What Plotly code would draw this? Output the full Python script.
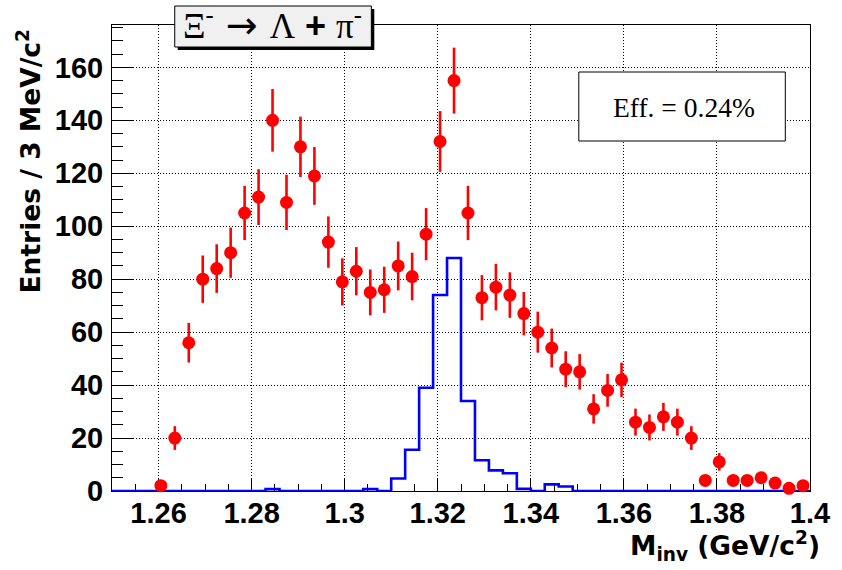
import numpy as np
import plotly.graph_objects as go

# ---- data (3 MeV/c^2 bins) ----
data_mass = [1.2605, 1.2635, 1.2665, 1.2695, 1.2725, 1.2755, 1.2785, 1.2815, 1.2845, 1.2875,
             1.2905, 1.2935, 1.2965, 1.2995, 1.3025, 1.3055, 1.3085, 1.3115, 1.3145, 1.3175,
             1.3205, 1.3235, 1.3265, 1.3295, 1.3325, 1.3355, 1.3385, 1.3415, 1.3445, 1.3475,
             1.3505, 1.3535, 1.3565, 1.3595, 1.3625, 1.3655, 1.3685, 1.3715, 1.3745, 1.3775,
             1.3805, 1.3835, 1.3865, 1.3895, 1.3925, 1.3955, 1.3985]
data_counts = [2, 20, 56, 80, 84, 90, 105, 111, 140, 109,
               130, 119, 94, 79, 83, 75, 76, 85, 81, 97,
               132, 155, 105, 73, 77, 74, 67, 60, 54, 46,
               45, 31, 38, 42, 26, 24, 28, 26, 20, 4,
               11, 4, 4, 5, 3, 1, 2]
data_err = list(np.sqrt(data_counts))

mc_edges = [1.250, 1.253, 1.256, 1.259, 1.262, 1.265, 1.268, 1.271, 1.274, 1.277,
            1.280, 1.283, 1.286, 1.289, 1.292, 1.295, 1.298, 1.301, 1.304, 1.307,
            1.310, 1.313, 1.316, 1.319, 1.322, 1.325, 1.328, 1.331, 1.334, 1.337,
            1.340, 1.343, 1.346, 1.349, 1.352, 1.355, 1.358, 1.361, 1.364, 1.367,
            1.370, 1.373, 1.376, 1.379, 1.382, 1.385, 1.388, 1.391, 1.394, 1.397, 1.400]
mc_counts = [0, 0, 0, 0, 0, 0, 0, 0, 0, 0,
             0, 0.7, 0, 0, 0, 0, 0, 0, 0.7, 0,
             4.7, 15.6, 39, 74, 88, 34, 11.6, 7.8, 6.7, 0.8,
             0, 2.5, 1.7, 0, 0, 0, 0, 0, 0, 0,
             0, 0, 0, 0, 0, 0, 0, 0, 0, 0]

x_tickvals = [1.26, 1.28, 1.30, 1.32, 1.34, 1.36, 1.38, 1.40]
x_ticktext = ["1.26", "1.28", "1.3", "1.32", "1.34", "1.36", "1.38", "1.4"]
y_tickvals = [0, 20, 40, 60, 80, 100, 120, 140, 160]
y_ticktext = ["0", "20", "40", "60", "80", "100", "120", "140", "160"]

NB = "\u00a0"
title_text = ("Ξ<sup>-</sup>"
              "<span style=\"font-family:'DejaVu Sans';font-size:38px\">" + NB + "→" + NB + "</span>"
              "Λ"
              "<span style=\"font-family:'Liberation Sans';font-weight:bold;font-size:36px\">" + NB + "+" + NB + "</span>"
              "π<sup>-</sup>")
eff_text = "Eff. = 0.24%"
xtitle_text = "<b>M<sub>inv</sub> (GeV/c<sup>2</sup>)</b>"
ytitle_text = "<b>Entries / 3 MeV/c<sup>2</sup></b>"

# ---- figure ----
W, H = 842, 570
L, R, T, B = 111.5, 24, 25, 79
pw, ph = W - L - R, H - T - B


def px(x):
    return (x - L) / pw


def py(y):
    return (H - B - y) / ph


fig = go.Figure()

# MC histogram (blue step line)
fig.add_trace(go.Scatter(
    x=mc_edges, y=mc_counts + [mc_counts[-1]],
    mode="lines", line=dict(color="#0000ff", width=2.6, shape="hv"),
    cliponaxis=False, hoverinfo="skip", showlegend=False))

# Data points
fig.add_trace(go.Scatter(
    x=data_mass, y=data_counts, mode="markers",
    marker=dict(color="#ff0000", size=13, line=dict(width=0)),
    error_y=dict(type="data", array=data_err, color="#ff0000", thickness=2.6, width=0),
    cliponaxis=False, showlegend=False))

axis_font = dict(family="Liberation Sans", size=29, color="black", weight="bold")
title_font = dict(family="DejaVu Sans", size=26.5, color="black")

fig.update_xaxes(
    range=[1.25, 1.40], tickmode="array", tickvals=x_tickvals, ticktext=x_ticktext,
    ticks="inside", ticklen=13, tickwidth=1, tickcolor="black",
    minor=dict(tickmode="linear", tick0=1.25, dtick=0.005, ticks="inside",
               ticklen=7, tickwidth=1, tickcolor="black", showgrid=False),
    showline=True, linecolor="black", linewidth=1, mirror=True,
    showgrid=True, gridcolor="black", gridwidth=1, griddash="1px,2px",
    zeroline=False, tickfont=axis_font, layer="below traces", ticklabelstandoff=-4)

fig.update_yaxes(
    range=[0, 176], tickmode="array", tickvals=y_tickvals, ticktext=y_ticktext,
    ticks="inside", ticklen=22, tickwidth=1, tickcolor="black",
    minor=dict(tickmode="linear", tick0=0, dtick=5, ticks="inside",
               ticklen=11, tickwidth=1, tickcolor="black", showgrid=False),
    showline=True, linecolor="black", linewidth=1, mirror=True,
    showgrid=True, gridcolor="black", gridwidth=1, griddash="1px,2px",
    zeroline=False, tickfont=axis_font, layer="below traces", ticklabelstandoff=2)

shapes = [
    # title box shadow + box
    dict(type="rect", xref="paper", yref="paper",
         x0=px(178), x1=px(377), y0=py(50), y1=py(9),
         fillcolor="black", line=dict(width=0), layer="above"),
    dict(type="rect", xref="paper", yref="paper",
         x0=px(175), x1=px(374), y0=py(47), y1=py(6),
         fillcolor="#f0f0f0", line=dict(color="black", width=1), layer="above"),
    # efficiency box
    dict(type="rect", xref="paper", yref="paper",
         x0=px(584), x1=px(793), y0=py(141), y1=py(72),
         fillcolor="white", line=dict(color="black", width=1), layer="above"),
]

annotations = [
    dict(text=title_text, xref="paper", yref="paper", x=px(274), y=py(24),
         xanchor="center", yanchor="middle", showarrow=False,
         font=dict(family="Liberation Serif", size=35, color="black")),
    dict(text=eff_text, xref="paper", yref="paper", x=px(690), y=py(107),
         xanchor="center", yanchor="middle", showarrow=False,
         font=dict(family="Liberation Serif", size=27.5, color="black")),
    dict(text=xtitle_text, xref="paper", yref="paper", x=px(830), y=py(546),
         xanchor="right", yanchor="middle", showarrow=False, font=title_font),
    dict(text=ytitle_text, xref="paper", yref="paper", x=px(27), y=py(28),
         xanchor="center", yanchor="top", textangle=-90, showarrow=False,
         font=title_font),
]

fig.update_layout(
    width=W, height=H, margin=dict(l=L, r=R, t=T, b=B, pad=0),
    paper_bgcolor="white", plot_bgcolor="white",
    shapes=shapes, annotations=annotations, showlegend=False)

fig.write_html("out.html")
